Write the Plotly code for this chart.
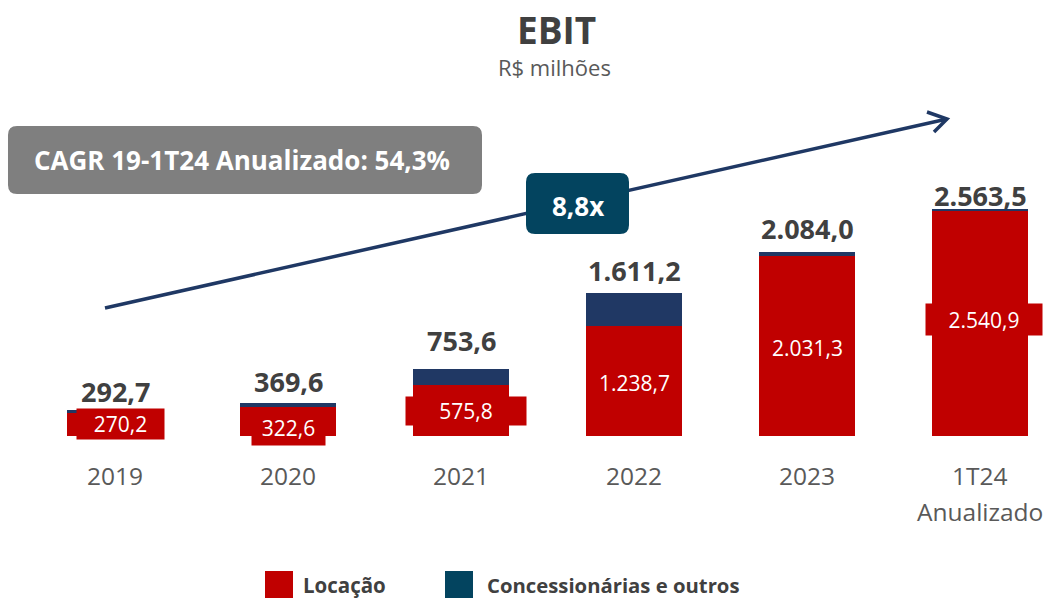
import plotly.graph_objects as go

# EBIT by segment, R$ millions
categories = ["2019", "2020", "2021", "2022", "2023", "1T24<br>Anualizado"]
locacao = [270.2, 322.6, 575.8, 1238.7, 2031.3, 2540.9]
concessionarias = [22.5, 47.0, 177.8, 372.5, 52.7, 22.6]
totals = [292.7, 369.6, 753.6, 1611.2, 2084.0, 2563.5]
cagr_text = "CAGR 19-1T24 Anualizado: 54,3%"
multiple_text = "8,8x"

W, H = 1047, 599
FONT = "Open Sans"
RED = "#C00000"
NAVY = "#203864"
TEAL = "#03445F"
DARK = "#404040"
GREY_TXT = "#595959"

# label box styling (width, height, x/y nudge in px) for the Locação values
seg_box_w = [87, 73, 120, None, None, 116]
seg_box_h = [30, 35, 28, None, None, 31]
seg_dx = [5, 0, 5, 0, 0, 4]
seg_dy = [0, -6, 0, -2, -2, 4]
total_dy = [19, 22, 29, 23, 23, 14]


def br(v):
    s = f"{v:,.1f}"
    return s.replace(",", "X").replace(".", ",").replace("X", ".")


def px(x, y):
    return x / W, 1 - y / H


def rounded_rect(x0, y0, x1, y1, r):
    def P(x, y):
        a, b = px(x, y)
        return f"{a:.5f},{b:.5f}"
    return (f"M {P(x0 + r, y0)} L {P(x1 - r, y0)} Q {P(x1, y0)} {P(x1, y0 + r)} "
            f"L {P(x1, y1 - r)} Q {P(x1, y1)} {P(x1 - r, y1)} "
            f"L {P(x0 + r, y1)} Q {P(x0, y1)} {P(x0, y1 - r)} "
            f"L {P(x0, y0 + r)} Q {P(x0, y0)} {P(x0 + r, y0)} Z")


idx = list(range(len(categories)))

fig = go.Figure()
fig.add_trace(go.Bar(x=idx, y=locacao, name="Locação", width=0.56,
                     marker=dict(color=RED, line=dict(width=0)), hoverinfo="skip"))
fig.add_trace(go.Bar(x=idx, y=concessionarias, name="Concessionárias e outros",
                     width=0.56, marker=dict(color=NAVY, line=dict(width=0)),
                     hoverinfo="skip"))

ann = []
for i, c in enumerate(categories):
    # segment value
    a = dict(x=i, y=locacao[i] / 2, text=br(locacao[i]), showarrow=False,
             font=dict(family=FONT, size=21, color="white"), bgcolor=RED,
             borderpad=0, xshift=seg_dx[i], yshift=seg_dy[i],
             xanchor="center", yanchor="middle")
    if seg_box_w[i]:
        a["width"] = seg_box_w[i]
        a["height"] = seg_box_h[i]
    ann.append(a)
    # total value
    ann.append(dict(x=i, y=totals[i], text=br(totals[i]), showarrow=False,
                    font=dict(family=FONT, size=27, color=DARK, weight="bold"),
                    yshift=total_dy[i], xanchor="center", yanchor="middle"))
    # category label lines
    for k, line in enumerate(c.split("<br>")):
        ann.append(dict(x=i, y=0, text=line, showarrow=False,
                        font=dict(family=FONT, size=24.5, color=GREY_TXT),
                        yshift=-39 - 36 * k, xanchor="center", yanchor="middle"))


def paper_text(x, y, text, size, color, bold=False, xanchor="center"):
    a, b = px(x, y)
    ann.append(dict(xref="paper", yref="paper", x=a, y=b, text=text, showarrow=False,
                    xanchor=xanchor, yanchor="middle",
                    font=dict(family=FONT, size=size, color=color,
                              weight="bold" if bold else "normal")))


paper_text(556, 29, "EBIT", 37, DARK, bold=True)
paper_text(554, 67, "R$ milhões", 22, GREY_TXT)
paper_text(242, 160, cagr_text, 26, "white", bold=True)
paper_text(578, 206, multiple_text, 26, "white", bold=True)
paper_text(301, 585, "Locação", 20.5, DARK, bold=True, xanchor="left")
paper_text(485, 585, "Concessionárias e outros", 20.3, DARK, bold=True, xanchor="left")

shapes = []
# growth arrow
x0, y0 = px(105, 308)
x1, y1 = px(947, 119)
shapes.append(dict(type="line", xref="paper", yref="paper", x0=x0, y0=y0, x1=x1, y1=y1,
                   line=dict(color="#1F3864", width=3.5), layer="below"))
a1, b1 = px(927, 112)
a2, b2 = px(934, 132)
shapes.append(dict(type="path", xref="paper", yref="paper",
                   path=f"M {a1},{b1} L {x1},{y1} L {a2},{b2}",
                   line=dict(color="#1F3864", width=3.5)))
# callout boxes
shapes.append(dict(type="path", xref="paper", yref="paper",
                   path=rounded_rect(8, 126, 482, 194, 9), fillcolor="#7F7F7F",
                   line=dict(width=0)))
shapes.append(dict(type="path", xref="paper", yref="paper",
                   path=rounded_rect(526, 173, 629, 234, 9), fillcolor=TEAL,
                   line=dict(width=0)))
# legend swatches
for lx, col in [(265, RED), (445, TEAL)]:
    sx0, sy0 = px(lx, 571)
    sx1, sy1 = px(lx + 28, 598)
    shapes.append(dict(type="rect", xref="paper", yref="paper", x0=sx0, y0=sy1,
                       x1=sx1, y1=sy0, fillcolor=col, line=dict(width=0)))

fig.update_layout(
    width=W, height=H, barmode="stack", showlegend=False,
    margin=dict(l=0, r=0, t=0, b=0),
    paper_bgcolor="white", plot_bgcolor="white",
    xaxis=dict(range=[-115 / 173, (W - 115) / 173], visible=False, fixedrange=True),
    yaxis=dict(range=[-(H - 436) / 0.0885, 436 / 0.0885], visible=False, fixedrange=True),
    annotations=ann, shapes=shapes,
)

fig.write_html("out.html", config={"displayModeBar": False})
